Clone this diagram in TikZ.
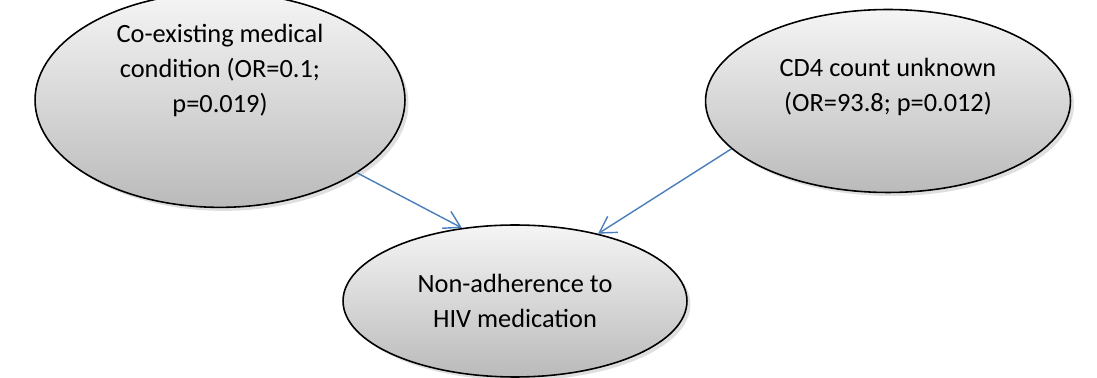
\documentclass[tikz,border=0pt]{standalone}
\usepackage{fontspec}
\setmainfont{Carlito}
\usepackage{xcolor}
\usetikzlibrary{%
  arrows.meta,
  positioning,
  shapes,
  shadows
}
\definecolor{linkblue}{RGB}{74,126,187}

\begin{document}
\begin{tikzpicture}[x=0.02cm,y=0.02cm,
    factor/.style={ellipse,draw=black,line width=0.9pt,
      top color=black!4,bottom color=black!27,
      drop shadow={shadow xshift=2pt,shadow yshift=-2pt,opacity=0.25},
      align=center,font=\fontsize{15}{20}\selectfont,inner sep=0pt},
    link/.style={draw=linkblue,line width=0.8pt,
      -{Straight Barb[length=0.32cm,width=0.38cm]}}
  ]
  \useasboundingbox (0,0) rectangle (1097,378);

  \node [factor,minimum width=7.4cm,minimum height=3.7cm] (comorb) at (220,278)
    {Co-existing medical\\condition (OR=0.1;\\p=0.019)\\[16pt]};
  \node [factor,minimum width=7.3cm,minimum height=3.66cm] (cdfour) at (888,277)
    {CD4 count unknown\\(OR=93.8; p=0.012)\\[-2pt]};
  \node [factor,minimum width=6.88cm,minimum height=3.04cm] (nonadh) at (515,77)
    {Non-adherence to\\HIV medication};

  \draw [link] (comorb.-28) -- (nonadh.126);
  \draw [link] (cdfour.197) -- (nonadh.39);
\end{tikzpicture}
\end{document}
